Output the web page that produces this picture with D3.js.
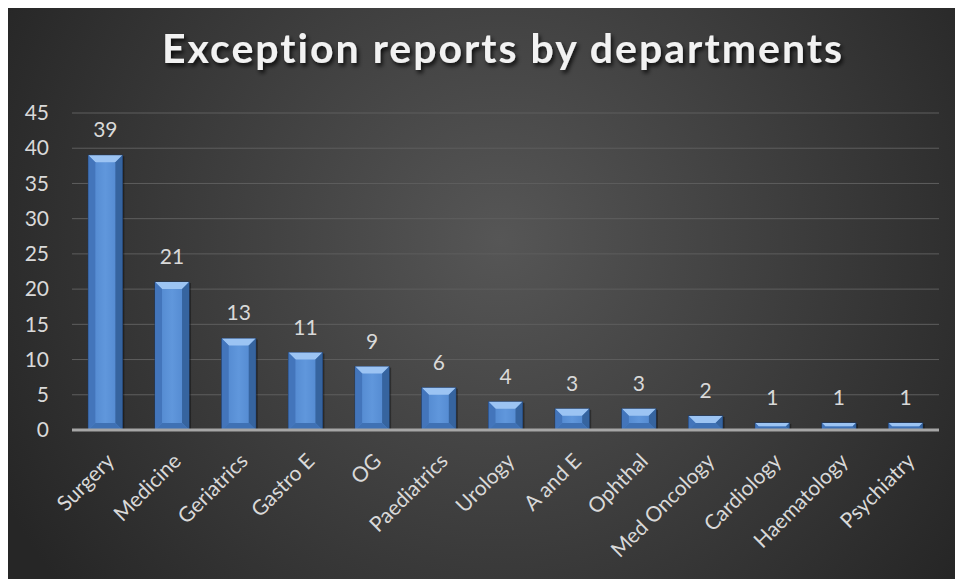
<!DOCTYPE html>
<html>
<head>
<meta charset="utf-8">
<script src="https://cdn.jsdelivr.net/npm/d3@7"></script>
<style>
  html, body { margin: 0; padding: 0; background: #fff; }
  svg { display: block; }
  text { font-variant-ligatures: none; }
</style>
</head>
<body>
<div id="chart"></div>
<script>
// Data
const departments = ['Surgery', 'Medicine', 'Geriatrics', 'Gastro E', 'OG', 'Paediatrics',
  'Urology', 'A and E', 'Ophthal', 'Med Oncology', 'Cardiology', 'Haematology', 'Psychiatry'];
const reports = [39, 21, 13, 11, 9, 6, 4, 3, 3, 2, 1, 1, 1];
const yTicks = [0, 5, 10, 15, 20, 25, 30, 35, 40, 45];
const title = 'Exception reports by departments';

const width = 955, height = 579;
const margin = { left: 72, right: 16, top: 113, bottom: 149 };
const font = 'Lato, "Open Sans", sans-serif';
const fs = 21;

const svg = d3.select('#chart').append('svg')
  .attr('width', width)
  .attr('height', height);

const defs = svg.append('defs');

// background gradient
const bg = defs.append('radialGradient')
  .attr('id', 'bg')
  .attr('gradientUnits', 'userSpaceOnUse')
  .attr('cx', 500).attr('cy', 240).attr('r', 560);
bg.append('stop').attr('offset', '0%').attr('stop-color', '#565656');
bg.append('stop').attr('offset', '100%').attr('stop-color', '#262626');

// bar face gradient
const face = defs.append('linearGradient').attr('id', 'face')
  .attr('x1', 0).attr('x2', 1).attr('y1', 0).attr('y2', 0);
face.append('stop').attr('offset', '0%').attr('stop-color', '#4f85cc');
face.append('stop').attr('offset', '50%').attr('stop-color', '#6097dc');
face.append('stop').attr('offset', '100%').attr('stop-color', '#4f85cc');

const shadow = defs.append('filter').attr('id', 'tshadow')
  .attr('x', '-10%').attr('y', '-30%').attr('width', '120%').attr('height', '160%');
shadow.append('feDropShadow').attr('dx', 2).attr('dy', 3)
  .attr('stdDeviation', 2).attr('flood-color', '#000').attr('flood-opacity', 0.8);

svg.append('rect')
  .attr('x', 8).attr('y', 8)
  .attr('width', width - 8).attr('height', height - 8)
  .attr('fill', 'url(#bg)');

// Scales
const x = d3.scaleBand()
  .domain(departments)
  .range([margin.left, width - margin.right])
  .paddingInner(0.49)
  .paddingOuter(0.245);

const y = d3.scaleLinear()
  .domain([0, 45])
  .range([height - margin.bottom, margin.top]);

// Gridlines
svg.append('g')
  .selectAll('line')
  .data(yTicks.filter(d => d > 0))
  .join('line')
  .attr('x1', margin.left).attr('x2', width - margin.right)
  .attr('y1', d => y(d)).attr('y2', d => y(d))
  .attr('stroke', '#5e5e5e')
  .attr('stroke-width', 1);

// Y axis labels
const yAxis = svg.append('g')
  .attr('transform', `translate(${margin.left},0)`)
  .call(d3.axisLeft(y).tickValues(yTicks).tickSize(0).tickPadding(23));
yAxis.select('.domain').remove();
yAxis.selectAll('text')
  .attr('fill', '#d9d9d9')
  .attr('font-family', font)
  .attr('font-size', fs);

// Bars
const bw = x.bandwidth();
const bev = 7;
const bar = svg.append('g')
  .selectAll('g')
  .data(departments.map((d, i) => ({ name: d, value: reports[i] })))
  .join('g')
  .attr('transform', d => `translate(${x(d.name)},${y(d.value)})`);

bar.append('rect')
  .attr('x', 2).attr('y', 1)
  .attr('width', bw).attr('height', d => y(0) - y(d.value))
  .attr('fill', '#000').attr('opacity', 0.35);

bar.append('rect')
  .attr('width', bw).attr('height', d => y(0) - y(d.value))
  .attr('fill', 'url(#face)')
  .attr('stroke', '#1d3a66').attr('stroke-width', 1);

// bevel: top light, sides darker, bottom dark
bar.append('path')
  .attr('d', d => {
    const h = y(0) - y(d.value);
    const b = Math.min(bev, h / 2);
    return `M0,0 L${bw},0 L${bw - b},${b} L${b},${b} Z`;
  })
  .attr('fill', '#9cc4f3');
bar.append('path')
  .attr('d', d => {
    const h = y(0) - y(d.value);
    const b = Math.min(bev, h / 2);
    return `M0,0 L${b},${b} L${b},${h - b} L0,${h} Z`;
  })
  .attr('fill', '#4375bb');
bar.append('path')
  .attr('d', d => {
    const h = y(0) - y(d.value);
    const b = Math.min(bev, h / 2);
    return `M${bw},0 L${bw - b},${b} L${bw - b},${h - b} L${bw},${h} Z`;
  })
  .attr('fill', '#36649f');
bar.append('path')
  .attr('d', d => {
    const h = y(0) - y(d.value);
    const b = Math.min(bev, h / 2);
    return `M0,${h} L${b},${h - b} L${bw - b},${h - b} L${bw},${h} Z`;
  })
  .attr('fill', '#3f71b4');

// Value labels
bar.append('text')
  .attr('x', bw / 2)
  .attr('y', -18)
  .attr('text-anchor', 'middle')
  .attr('fill', '#d9d9d9')
  .attr('font-family', font)
  .attr('font-size', fs)
  .text(d => d.value);

// Baseline
svg.append('line')
  .attr('x1', margin.left).attr('x2', width - margin.right)
  .attr('y1', y(0)).attr('y2', y(0))
  .attr('stroke', '#a6a6a6')
  .attr('stroke-width', 3);

// X labels
svg.append('g')
  .selectAll('text')
  .data(departments)
  .join('text')
  .attr('transform', d => `translate(${x(d) + bw / 2},${y(0) + 22}) rotate(-45)`)
  .attr('text-anchor', 'end')
  .attr('dy', '0.7em')
  .attr('fill', '#d9d9d9')
  .attr('font-family', font)
  .attr('font-size', fs)
  .text(d => d);

// Title
svg.append('text')
  .attr('x', 502)
  .attr('y', 63)
  .attr('text-anchor', 'middle')
  .attr('fill', '#f2f2f2')
  .attr('font-family', font)
  .attr('font-weight', 'bold')
  .attr('font-size', 41)
  .attr('textLength', 680)
  .attr('lengthAdjust', 'spacing')
  .attr('filter', 'url(#tshadow)')
  .text(title);
</script>
</body>
</html>
